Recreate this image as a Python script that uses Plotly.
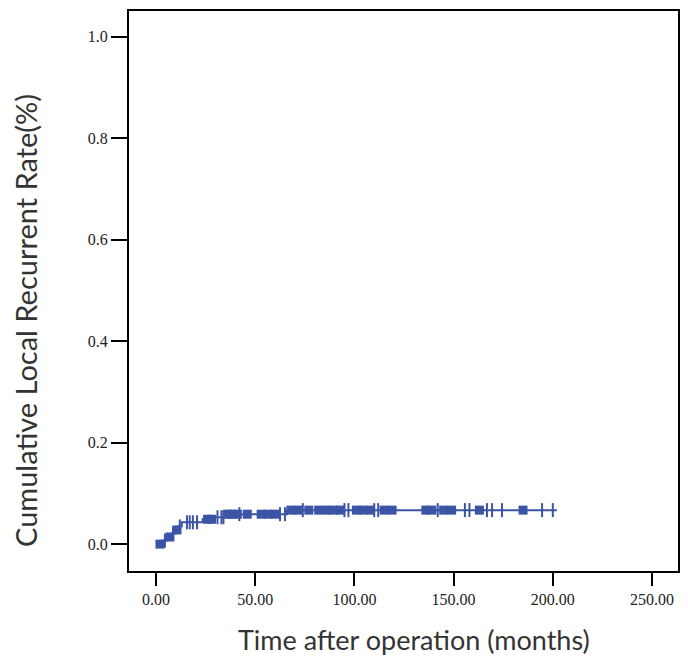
import plotly.graph_objects as go

# Step curve (cumulative local recurrence)
event_times = [0, 3, 5.5, 8, 10, 11.5, 13, 23.5, 29.5, 35.5, 66, 202]
cum_rate = [0.0, 0.007, 0.014, 0.021, 0.028, 0.035, 0.043, 0.049, 0.053, 0.059, 0.067, 0.067]

# Censored observations (single tick marks)
censor_plus = [4.5, 8.6, 12, 15.6, 17, 18.6, 20.7, 31, 33, 34, 42, 62.5, 65, 74,
               95, 97, 110, 112, 142, 155.7, 158, 166.8, 169.4, 174.4, 194.6, 200]
# Dense clusters of censored observations (appear as filled blocks)
censor_block = [2, 7, 10.6, 26, 28, 36, 38, 41, 46, 53, 56.5, 60, 68, 71.5, 77,
                82, 86, 89.5, 93, 101, 104.5, 108, 115, 119, 136, 139, 145, 149,
                163, 185]

x_ticks = [0, 50, 100, 150, 200, 250]
y_ticks = [0.0, 0.2, 0.4, 0.6, 0.8, 1.0]

color = "#3B54A5"


def level_at(t):
    v = cum_rate[0]
    for et, cv in zip(event_times, cum_rate):
        if et <= t:
            v = cv
    return v


fig = go.Figure()
fig.add_trace(go.Scatter(x=event_times, y=cum_rate, mode="lines",
                         line=dict(color=color, width=2, shape="hv"),
                         hoverinfo="skip", showlegend=False))
fig.add_trace(go.Scatter(x=censor_plus, y=[level_at(t) for t in censor_plus],
                         mode="markers",
                         marker=dict(symbol="line-ns-open", size=10, color=color,
                                     line=dict(color=color, width=2)),
                         showlegend=False))
fig.add_trace(go.Scatter(x=censor_block, y=[level_at(t) for t in censor_block],
                         mode="markers",
                         marker=dict(symbol="square", size=9, color=color,
                                     line=dict(width=0)),
                         showlegend=False))

tickfont = dict(family="Liberation Serif", size=16, color="#222")
fig.update_xaxes(range=[-13.6, 263.1], tickvals=x_ticks,
                 ticktext=[f"{v:.2f}" for v in x_ticks],
                 ticks="outside", ticklen=13, tickwidth=2, tickcolor="black",
                 showline=True, linewidth=2, linecolor="black", mirror=True,
                 showgrid=False, zeroline=False, tickfont=tickfont,
                 automargin=False)
fig.update_yaxes(range=[-0.053, 1.051], tickvals=y_ticks,
                 ticktext=[f"{v:.1f}" for v in y_ticks],
                 ticks="outside", ticklen=16, tickwidth=2, tickcolor="black",
                 showline=True, linewidth=2, linecolor="black", mirror=True,
                 showgrid=False, zeroline=False, tickfont=tickfont,
                 automargin=False)

# page has an 8px body margin: figure occupies (8,8)-(688,658)
OFF = 8
W, H = 680, 650
ML, MR, MT, MB = 129 - OFF, 10, 11 - OFF, 87

fig.update_layout(
    template="none",
    width=W, height=H,
    margin=dict(l=ML, r=MR, t=MT, b=MB),
    paper_bgcolor="white", plot_bgcolor="white",
    annotations=[
        dict(text="Time after operation (months)", x=414, y=639,
             xref="paper", yref="paper", showarrow=False,
             xanchor="center", yanchor="middle",
             font=dict(family="Lato", size=27, color="#333")),
        dict(text="Cumulative Local Recurrent Rate(%)", x=25, y=321,
             xref="paper", yref="paper", showarrow=False,
             xanchor="center", yanchor="middle",
             font=dict(family="Lato", size=29, color="#333"),
             textangle=-90),
    ],
)

# convert page pixel positions to paper coordinates for the titles
pw = W - ML - MR
ph = H - MT - MB
for a in fig.layout.annotations:
    a.x = (a.x - OFF - ML) / pw
    a.y = (H - MB - (a.y - OFF)) / ph

fig.write_html("out.html")
